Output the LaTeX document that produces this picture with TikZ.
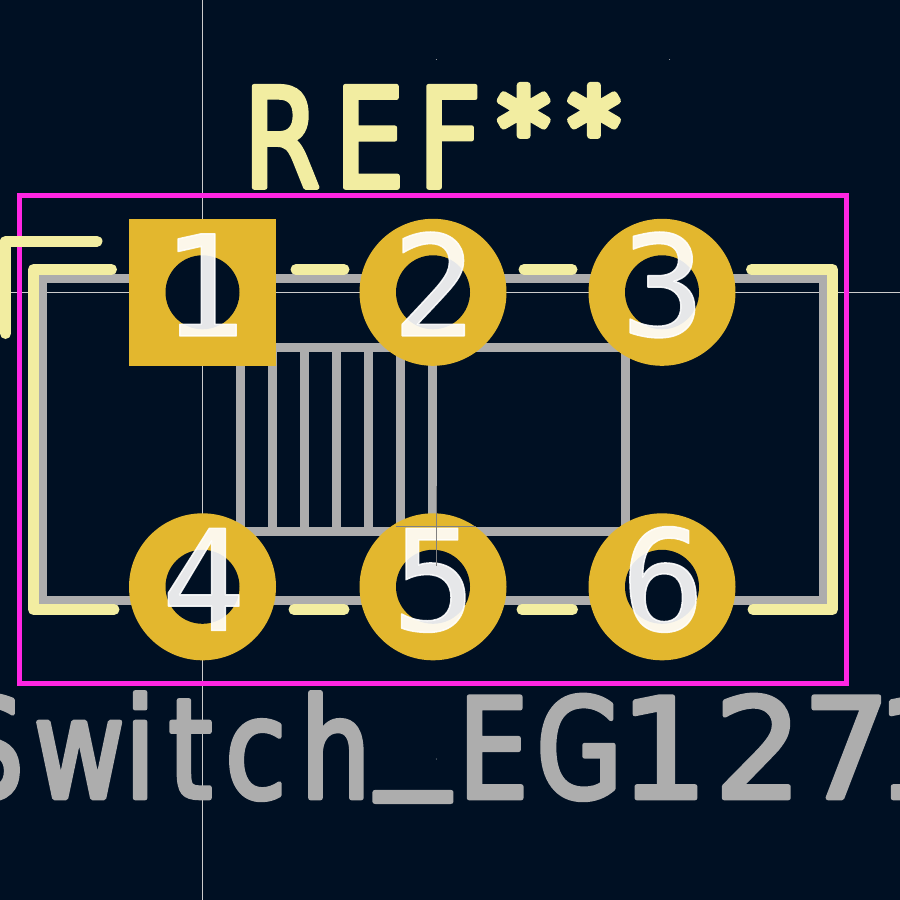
\documentclass[tikz,border=0pt]{standalone}
\usepackage{fontspec}
\usepackage{graphicx}
\usetikzlibrary{calc}
\setmainfont{DejaVu Sans Mono}
\newfontfamily\strokefont[FakeStretch=.8]{DejaVu Sans}
\newfontfamily\strokewide{DejaVu Sans}
\newfontfamily\starfont{Carlito}
\newcommand{\penstroke}[1]{\special{pdf:code 1 J 1 j 2 Tr #1 w}}
\newcommand{\penreset}{\special{pdf:code 0 Tr}}
\newcommand{\ks}[1]{\kern#1pt\relax}

\definecolor{board}{RGB}{0,16,35}
\definecolor{silk}{RGB}{242,237,161}
\definecolor{fab}{RGB}{173,173,173}
\definecolor{court}{RGB}{255,38,226}
\definecolor{padgold}{RGB}{227,183,46}

\begin{document}
\begin{tikzpicture}[x=1pt,y=-1pt,
    silkline/.style={draw=silk,line width=11pt,line cap=round,line join=round},
    fabline/.style={draw=fab,line width=8.5pt},
    padsquare/.style={rectangle,fill=padgold,minimum size=147pt,inner sep=0pt},
    padround/.style={circle,fill=padgold,minimum size=147pt,inner sep=0pt},
    padhole/.style={circle,fill=board,minimum size=74pt,inner sep=0pt},
    padnum/.style={text=white,text opacity=.9,inner sep=0pt,anchor=base,font=\fontsize{140}{140}\selectfont,
      execute at begin node=\penstroke{1.5},execute at end node=\penreset},
    speck/.style={fill=white!70!black,circle,minimum size=1pt,inner sep=0pt}
  ]

\useasboundingbox (0,0) rectangle (900,900);
\clip (0,0) rectangle (900,900);
\fill[board] (0,0) rectangle (900,900);

\draw[white!80!black,line width=.8pt] (202.5,0) -- (202.5,900);
\draw[white!80!black,line width=.8pt] (0,292.3) -- (900,292.3);
\node[speck] (g1) at (436.3,59.5) {};
\node[speck] (g2) at (669.5,59.5) {};
\node[speck] (g3) at (436.3,759) {};

\draw[court,line width=4.4pt] (19.5,195.5) rectangle (846.5,683.5);

\draw[fabline] (43,278.7) rectangle (823,600.3);
\draw[fabline] (240.5,347.7) rectangle (625.5,531.5);
\draw[fabline] (272.5,347.7) -- (272.5,531.5);
\draw[fabline] (304.5,347.7) -- (304.5,531.5);
\draw[fabline] (336.5,347.7) -- (336.5,531.5);
\draw[fabline] (368.5,347.7) -- (368.5,531.5);
\draw[fabline] (400.5,347.7) -- (400.5,531.5);
\draw[fabline] (432.5,347.7) -- (432.5,531.5);

\draw[silkline] (111.5,269.5) -- (33.5,269.5) -- (33.5,609.5) -- (114,609.5);
\draw[silkline] (296,269.5) -- (344,269.5);
\draw[silkline] (524,269.5) -- (572,269.5);
\draw[silkline] (751.5,269.5) -- (832.5,269.5) -- (832.5,609.5) -- (753,609.5);
\draw[silkline] (294,609.5) -- (344,609.5);
\draw[silkline] (522,609.5) -- (572.5,609.5);
\draw[silkline] (97,241.3) -- (5.5,241.3) -- (5.5,333.5);

\node[padsquare] (p1) at (202.5,292.3) {};
\node[padround] (p2) at (433,292.3) {};
\node[padround] (p3) at (662,292.3) {};
\node[padround] (p4) at (202.5,586.8) {};
\node[padround] (p5) at (433,586.8) {};
\node[padround] (p6) at (662,586.8) {};

\node[padhole] at (p1) {};
\node[padhole] at (p2) {};
\node[padhole] at (p3) {};
\node[padhole] at (p4) {};
\node[padhole] at (p5) {};
\node[padhole] at (p6) {};

\node[padnum] at ($(p1)+(1,43.6)$) {1};
\node[padnum] at ($(p2)+(1,43.6)$) {2};
\node[padnum] at ($(p3)+(1,43.6)$) {3};
\node[padnum] at ($(p4)+(1,43.6)$) {4};
\node[padnum] at ($(p5)+(1,43.6)$) {5};
\node[padnum] at ($(p6)+(1,43.6)$) {6};

\node[text=silk,anchor=base west,inner sep=0pt] (ref) at (243,187.5) {\fontsize{139}{139}\strokefont\penstroke{4.5}R\ks{14}E\ks{13}F\ks{1}\fontsize{165}{165}\starfont\penstroke{7}\raisebox{-15pt}{*\ks{-12}*}\penreset};
\node[text=fab,anchor=base west,inner sep=0pt] (val) at (-47,798) {\fontsize{139}{139}\strokefont\penstroke{4.5}S\ks{10}w\ks{0}i\ks{13}t\ks{13}c\ks{14}h\ks{6}\raisebox{29pt}{\scalebox{1.3}[1]{\_}}\ks{9}E\ks{8}G\ks{-3}\strokewide 1\ks{6}27\ks{-15}1\penreset};

\draw[gray,line width=1pt] (436.3,486) -- (436.3,566);
\draw[gray,line width=1pt] (396,526.3) -- (476,526.3);

\end{tikzpicture}
\end{document}
